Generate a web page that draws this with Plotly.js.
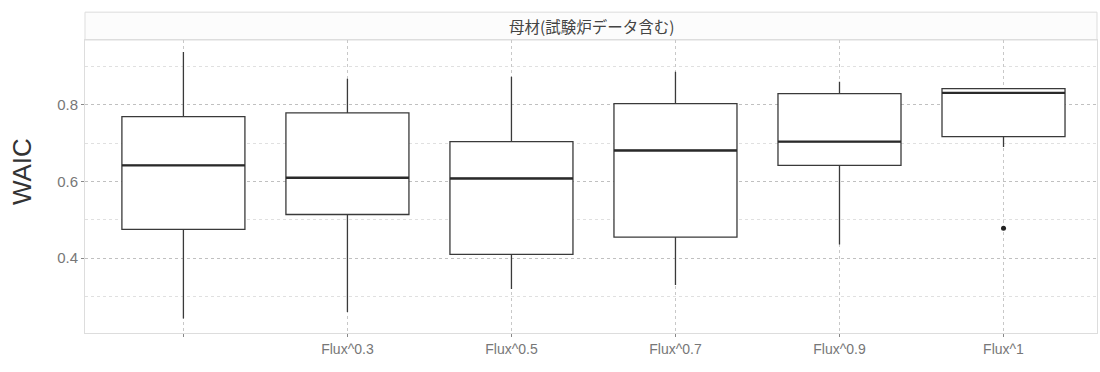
<!DOCTYPE html>
<html>
<head>
<meta charset="utf-8">
<script src="https://cdn.plot.ly/plotly-3.0.1.min.js"></script>
<style>
	body { margin: 0; background: #ffffff; }
	#plot { width: 1100px; height: 372px; }
</style>
</head>
<body>
<div id="plot"></div>
<script>
// Box summaries, one entry per category
const CATEGORIES = ["", "Flux^0.3", "Flux^0.5", "Flux^0.7", "Flux^0.9", "Flux^1"];
const Q1 = [0.475, 0.514, 0.410, 0.455, 0.642, 0.717];
const MEDIAN = [0.642, 0.610, 0.608, 0.681, 0.704, 0.831];
const Q3 = [0.769, 0.779, 0.704, 0.803, 0.829, 0.842];
const LOWER = [0.243, 0.260, 0.320, 0.330, 0.436, 0.690];
const UPPER = [0.938, 0.868, 0.873, 0.886, 0.860, 0.842];
const OUTLIER_X = [5];
const OUTLIER_Y = [0.478];

const BOX_WIDTH = 0.75;
const POS = CATEGORIES.map((c, i) => i);

const boxTrace = {
	type: "box",
	x: POS,
	q1: Q1,
	median: MEDIAN,
	q3: Q3,
	lowerfence: LOWER,
	upperfence: UPPER,
	width: BOX_WIDTH,
	whiskerwidth: 0,
	fillcolor: "#ffffff",
	line: { color: "#3a3a3a", width: 1.3 },
	boxpoints: false,
	hoverinfo: "skip",
	showlegend: false,
};

// ggplot draws a heavier median line; overlay it from the same data
const medianX = [];
const medianY = [];
POS.forEach((p, i) => {
	medianX.push(p - BOX_WIDTH / 2, p + BOX_WIDTH / 2, null);
	medianY.push(MEDIAN[i], MEDIAN[i], null);
});
const medianTrace = {
	type: "scatter",
	mode: "lines",
	x: medianX,
	y: medianY,
	line: { color: "#2a2a2a", width: 2.4 },
	hoverinfo: "skip",
	showlegend: false,
};

const outlierTrace = {
	type: "scatter",
	mode: "markers",
	x: OUTLIER_X,
	y: OUTLIER_Y,
	marker: { color: "#222222", size: 5 },
	hoverinfo: "skip",
	showlegend: false,
};

const layout = {
	width: 1100,
	height: 372,
	margin: { l: 85, r: 3, t: 40, b: 39 },
	paper_bgcolor: "#ffffff",
	plot_bgcolor: "#ffffff",
	font: { family: "Liberation Sans, Arial, sans-serif", color: "#777777" },
	xaxis: {
		range: [-0.6, 5.57],
		tickvals: POS,
		ticktext: CATEGORIES,
		showgrid: true,
		gridcolor: "#c8c8c8",
		griddash: "dot",
		gridwidth: 1,
		zeroline: false,
		ticks: "outside",
		ticklen: 3,
		tickcolor: "#888888",
		tickfont: { size: 14, color: "#777777" },
		showline: true,
		linecolor: "#dddddd",
		mirror: true,
	},
	yaxis: {
		range: [0.205, 0.969],
		tick0: 0.4,
		dtick: 0.2,
		tickformat: ".1f",
		showgrid: true,
		gridcolor: "#c0c0c0",
		griddash: "dot",
		gridwidth: 1,
		minor: {
			dtick: 0.1,
			tick0: 0.3,
			showgrid: true,
			gridcolor: "#e0e0e0",
			griddash: "dot",
			gridwidth: 1,
		},
		zeroline: false,
		ticks: "outside",
		ticklen: 3,
		tickcolor: "#888888",
		tickfont: { size: 15, color: "#777777" },
		showline: true,
		linecolor: "#dddddd",
		mirror: true,
	},
	shapes: [
		// facet strip above the panel
		{
			type: "rect",
			xref: "paper",
			yref: "paper",
			x0: 0,
			x1: 1,
			y0: 1,
			y1: 1.095,
			fillcolor: "#fcfcfc",
			line: { color: "#dddddd", width: 1 },
			layer: "below",
		},
	],
	annotations: [
		{
			text: "母材(試験炉データ含む)",
			xref: "paper",
			yref: "paper",
			x: 0.5,
			y: 1.047,
			yanchor: "middle",
			showarrow: false,
			font: { family: "Noto Sans CJK JP, sans-serif", size: 15.5, color: "#444444" },
		},
		// y title, centred on panel + strip like the original
		{
			text: "WAIC",
			xref: "paper",
			yref: "paper",
			x: -0.062,
			y: 0.55,
			xanchor: "center",
			yanchor: "middle",
			textangle: -90,
			showarrow: false,
			font: { size: 26, color: "#333333", family: "Liberation Sans, Arial, sans-serif" },
		},
	],
};

Plotly.newPlot("plot", [boxTrace, medianTrace, outlierTrace], layout, {
	displayModeBar: false,
	staticPlot: true,
});
</script>
</body>
</html>
